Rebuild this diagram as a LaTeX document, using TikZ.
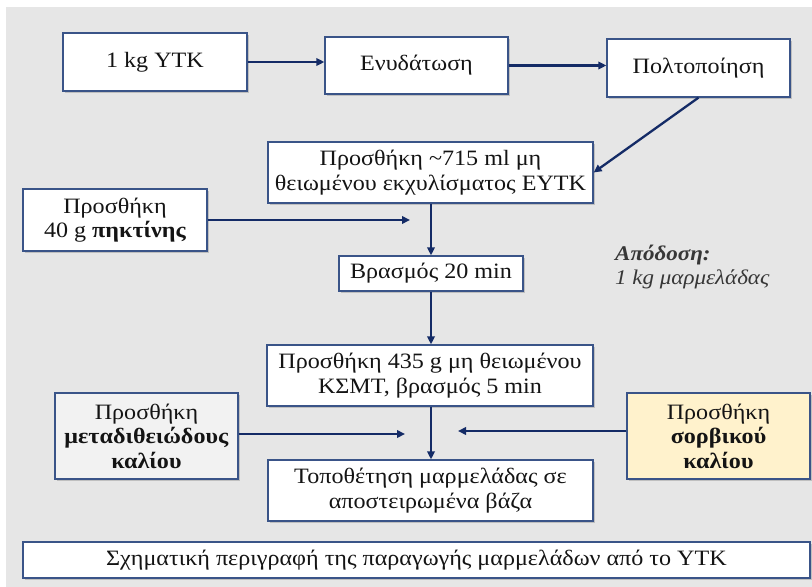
\documentclass[tikz,border=0pt]{standalone}
\usepackage{fontspec}
\setmainfont{Liberation Serif}[FakeStretch=1.1]
\usetikzlibrary{arrows.meta,shadows}
\definecolor{bgGray}{HTML}{E6E6E6}
\definecolor{boxLine}{HTML}{3A5488}
\definecolor{arrowNavy}{HTML}{142B66}
\definecolor{softGray}{HTML}{F2F2F2}
\definecolor{paleYellow}{HTML}{FFF2CC}
\definecolor{textDark}{HTML}{141414}
\begin{document}
\begin{tikzpicture}[x=1bp,y=-1bp,
  stepbox/.style={draw=boxLine, line width=1.3bp, fill=white, align=center,
    inner sep=0pt, text=textDark,
    font=\fontsize{22}{24.5}\selectfont,
    drop shadow={shadow xshift=2bp, shadow yshift=-2bp, opacity=0.3, fill=black!60}},
  flow/.style={draw=arrowNavy, line width=2.3bp, -{Triangle[length=8bp,width=7.5bp]}}]
  \useasboundingbox (0,0) rectangle (812,587);
  \fill[bgGray] (6,7) rectangle (812,587);

  % process steps
  \node[stepbox, minimum width=184bp, minimum height=58bp] (kg) at (155,62) {1 kg ΥΤΚ};
  \node[stepbox, minimum width=183bp, minimum height=57bp] (hyd) at (416.5,65.5) {Ενυδάτωση};
  \node[stepbox, minimum width=183bp, minimum height=58bp] (pulp) at (698.5,68) {Πολτοποίηση};
  \node[stepbox, minimum width=325bp, minimum height=61bp] (extr) at (430.5,172.5)
    {Προσθήκη \textasciitilde715 ml μη\\θειωμένου εκχυλίσματος ΕΥΤΚ};
  \node[stepbox, minimum width=184bp, minimum height=62bp] (pect) at (115,220)
    {Προσθήκη\\40 g \textbf{πηκτίνης}};
  \node[stepbox, minimum width=184bp, minimum height=35bp] (boil) at (431,273.5)
    {Βρασμός 20 min};
  \node[stepbox, minimum width=326bp, minimum height=61bp] (sugar) at (430,375.5)
    {Προσθήκη 435 g μη θειωμένου\\ΚΣΜΤ, βρασμός 5 min};
  \node[stepbox, fill=softGray, minimum width=183bp, minimum height=86bp] (meta) at (146.5,436)
    {Προσθήκη\\\textbf{μεταδιθειώδους}\\\textbf{καλίου}};
  \node[stepbox, fill=paleYellow, minimum width=183bp, minimum height=86bp] (sorb) at (718.5,436)
    {Προσθήκη\\\textbf{σορβικού}\\\textbf{καλίου}};
  \node[stepbox, minimum width=325bp, minimum height=61bp] (jars) at (430.5,490.5)
    {Τοποθέτηση μαρμελάδας σε\\αποστειρωμένα βάζα};
  \node[stepbox, minimum width=787bp, minimum height=36bp] (title) at (416.5,560)
    {Σχηματική περιγραφή της παραγωγής μαρμελάδων από το ΥΤΚ};

  % yield note
  \node[anchor=west, align=left, inner sep=0pt, text=textDark!85,
    font=\fontsize{21}{25}\selectfont] (yield) at (615,267)
    {\textbf{\textit{Απόδοση:}}\\\textit{1 kg μαρμελάδας}};

  % free ends of the side inputs
  \coordinate (pectEnd) at (410,220);
  \coordinate (metaEnd) at (405,434);
  \coordinate (sorbEnd) at (458,431);

  % connectors
  \draw[flow] (kg.east) -- (hyd.west |- kg.east);
  \draw[flow] (hyd.east) -- (pulp.west |- hyd.east);
  \draw[flow] (pulp.south) -- (extr.east);
  \draw[flow] (extr.south -| boil.north) -- (boil.north);
  \draw[flow] (pect.east) -- (pectEnd);
  \draw[flow] (boil.south) -- (boil.south |- sugar.north);
  \draw[flow] (sugar.south -| boil.south) -- (jars.north -| boil.south);
  \draw[flow] (meta.east |- metaEnd) -- (metaEnd);
  \draw[flow] (sorb.west |- sorbEnd) -- (sorbEnd);
\end{tikzpicture}
\end{document}
